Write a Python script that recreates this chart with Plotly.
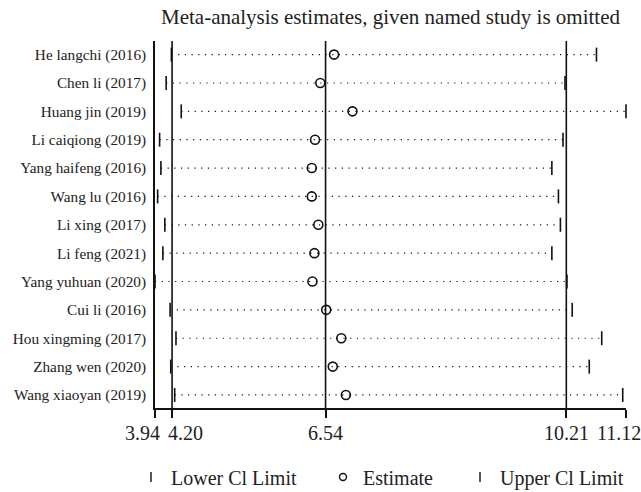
import plotly.graph_objects as go

studies = ["He langchi (2016)", "Chen li (2017)", "Huang jin (2019)", "Li caiqiong (2019)",
           "Yang haifeng (2016)", "Wang lu (2016)", "Li xing (2017)", "Li feng (2021)",
           "Yang yuhuan (2020)", "Cui li (2016)", "Hou xingming (2017)", "Zhang wen (2020)",
           "Wang xiaoyan (2019)"]
lower = [4.19, 4.11, 4.34, 4.01, 4.03, 3.98, 4.09, 4.06, 3.94, 4.17, 4.26, 4.18, 4.24]
estimate = [6.67, 6.46, 6.95, 6.38, 6.33, 6.33, 6.43, 6.37, 6.34, 6.55, 6.78, 6.65, 6.85]
upper = [10.67, 10.19, 11.12, 10.16, 9.99, 10.09, 10.12, 9.99, 10.22, 10.30, 10.75, 10.56, 11.07]
ref_lines = [4.20, 6.54, 10.21]
tick_vals = [3.94, 4.20, 6.54, 10.21, 11.12]
tick_text = ["3.94", "4.20", "6.54", "10.21", "11.12"]
legend_names = ["Lower Cl Limit", "Estimate", "Upper Cl Limit"]

FONT = "Liberation Serif"
TXT = "#222222"
INK = "#111111"
rows = list(range(len(studies)))
label_shift = [-13, 13, 0, 0, -7]
legend_x_px = [131, 323, 460]
legend_symbols = ["line-ns", "circle-open", "line-ns"]

fig = go.Figure()

# dotted CI lines
lx, ly = [], []
for i in rows:
    lx += [lower[i], upper[i], None]
    ly += [i, i, None]
fig.add_trace(go.Scatter(x=lx, y=ly, mode="lines", showlegend=False,
                         line=dict(color="#111111", width=1.2, dash="1.2px,5.5px"),
                         hoverinfo="skip", cliponaxis=False))

# reference vertical lines
for v in ref_lines:
    fig.add_shape(type="line", x0=v, x1=v, y0=0, y1=1, xref="x", yref="paper",
                  line=dict(color=INK, width=1.6), layer="above")

fig.add_trace(go.Scatter(x=lower, y=rows, mode="markers", showlegend=False, cliponaxis=False,
                         marker=dict(symbol="line-ns", size=10, line=dict(color=INK, width=1.6))))
fig.add_trace(go.Scatter(x=upper, y=rows, mode="markers", showlegend=False, cliponaxis=False,
                         marker=dict(symbol="line-ns", size=10, line=dict(color=INK, width=1.6))))
fig.add_trace(go.Scatter(x=estimate, y=rows, mode="markers", showlegend=False, cliponaxis=False,
                         marker=dict(symbol="circle-open", size=9, color=INK,
                                     line=dict(color=INK, width=1.6))))

# legend entries, each in its own legend so they can be placed like the original
legend_ids = ["legend", "legend2", "legend3"]
for name, sym, lid in zip(legend_names, legend_symbols, legend_ids):
    fig.add_trace(go.Scatter(x=[None], y=[None], mode="markers", name=name, legend=lid,
                             marker=dict(symbol=sym, size=7, color=INK,
                                         line=dict(color=INK, width=1.4))))

# x tick labels as annotations (offset like the original)
for v, t, s in zip(tick_vals, tick_text, label_shift):
    fig.add_annotation(x=v, y=0, xref="x", yref="paper", text=t, showarrow=False,
                       xanchor="center", yanchor="top", xshift=s, yshift=-12,
                       font=dict(size=20, family=FONT, color=TXT))

legend_common = dict(orientation="h", xref="container", xanchor="left",
                     y=1 - 477 / 492, yref="container", yanchor="middle",
                     font=dict(size=20, family=FONT, color=TXT),
                     itemwidth=30, bgcolor="rgba(0,0,0,0)", borderwidth=0)

fig.update_layout(
    width=641, height=492,
    margin=dict(l=155, r=15, t=41, b=84),
    paper_bgcolor="white", plot_bgcolor="white",
    font=dict(family=FONT, color=TXT, size=15),
    title=dict(text="Meta-analysis estimates, given named study is omitted",
               x=0.5, xref="paper", xanchor="center", y=1, yref="container",
               yanchor="top", pad=dict(t=9), font=dict(size=21, family=FONT, color=TXT)),
    xaxis=dict(range=[3.94, 11.12], tickvals=tick_vals, showticklabels=False,
               ticks="outside", ticklen=8, tickwidth=1.6, tickcolor=INK,
               showline=True, linecolor=INK, linewidth=1.6, showgrid=False,
               zeroline=False),
    yaxis=dict(range=[12.46, -0.48], tickvals=rows, ticktext=studies,
               showline=True, linecolor=INK, linewidth=1.6, showgrid=False,
               zeroline=False, ticks="", ticklabelstandoff=4,
               tickfont=dict(size=15.3, family=FONT, color=TXT)),
    legend=dict(x=legend_x_px[0] / 641, **legend_common),
    legend2=dict(x=legend_x_px[1] / 641, **legend_common),
    legend3=dict(x=legend_x_px[2] / 641, **legend_common),
)

fig.write_html("out.html")
